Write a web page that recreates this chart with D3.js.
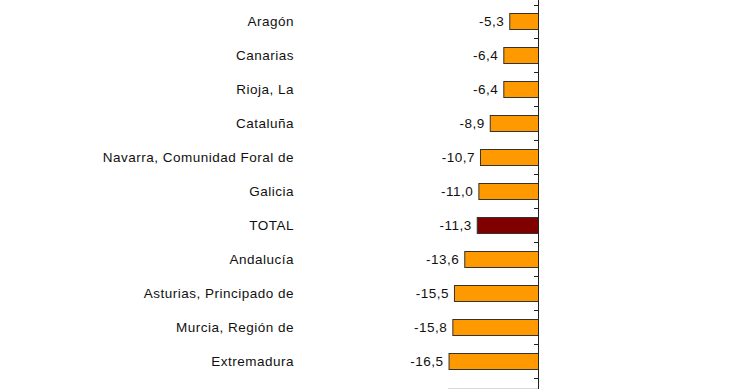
<!DOCTYPE html>
<html>
<head>
<meta charset="utf-8">
<script src="https://cdn.jsdelivr.net/npm/d3@7"></script>
<style>
	body { margin: 0; background: #fff; }
	svg { display: block; }
	text { font-family: "Liberation Sans", Arial, sans-serif; font-size: 13.5px; letter-spacing: 0.5px; fill: #111; }
</style>
</head>
<body>
<script>
// chart values
const categories = ["Aragón", "Canarias", "Rioja, La", "Cataluña", "Navarra, Comunidad Foral de",
	"Galicia", "TOTAL", "Andalucía", "Asturias, Principado de", "Murcia, Región de", "Extremadura"];
const values = [-5.3, -6.4, -6.4, -8.9, -10.7, -11.0, -11.3, -13.6, -15.5, -15.8, -16.5];
const totalName = "TOTAL";

const width = 740, height = 389;
const svg = d3.select("body").append("svg").attr("width", width).attr("height", height);

let x = d3.scaleLinear().domain([-16.6, 0]).range([448, 538]);
let y = d3.scaleBand().domain(categories).range([4.5, 378]).paddingInner(0.53).paddingOuter(0.265);

let data = categories.map(function(c, i) { return { name: c, value: values[i] }; });
// hyphen minus and decimal comma, as in the original
let fmt = function(v) { return v.toFixed(1).replace(".", ","); };

// faint bottom line
svg.append("line")
	.attr("x1", x(-16.6)).attr("x2", x(0))
	.attr("y1", 388.5).attr("y2", 388.5)
	.style("stroke", "#d8d8d8");

svg.selectAll("rect.bar")
	.data(data)
	.enter().append("rect")
	.attr("class", "bar")
	.attr("x", function(d) { return x(d.value) + 0.5; })
	.attr("y", function(d) { return Math.round(y(d.name)) + 0.5; })
	.attr("width", function(d) { return x(0) - x(d.value); })
	.attr("height", Math.round(y.bandwidth()))
	.style("fill", function(d) { return d.name == totalName ? "#800000" : "#ff9900"; })
	.style("stroke", "#333")
	.style("stroke-width", 1);

// value labels
svg.selectAll("text.val")
	.data(data)
	.enter().append("text")
	.attr("class", "val")
	.attr("x", function(d) { return x(d.value) - 5; })
	.attr("y", function(d) { return y(d.name) + y.bandwidth() / 2; })
	.attr("dy", "0.36em")
	.attr("text-anchor", "end")
	.text(function(d) { return fmt(d.value); });

// category labels
svg.selectAll("text.cat")
	.data(data)
	.enter().append("text")
	.attr("class", "cat")
	.attr("x", 294)
	.attr("y", function(d) { return y(d.name) + y.bandwidth() / 2; })
	.attr("dy", "0.36em")
	.attr("text-anchor", "end")
	.text(function(d) { return d.name; });

// vertical axis and ticks between bands
let step = y.step();
let tickYs = d3.range(categories.length + 1).map(function(i) { return 4.5 + i * step; });
svg.append("line")
	.attr("x1", x(0) + 0.5).attr("x2", x(0) + 0.5)
	.attr("y1", 0).attr("y2", height)
	.style("stroke", "#222");
svg.selectAll("line.tick")
	.data(tickYs)
	.enter().append("line")
	.attr("class", "tick")
	.attr("x1", x(0) - 4).attr("x2", x(0) + 0.5)
	.attr("y1", function(d) { return Math.round(d) + 0.5; })
	.attr("y2", function(d) { return Math.round(d) + 0.5; })
	.style("stroke", "#222");
</script>
</body>
</html>
